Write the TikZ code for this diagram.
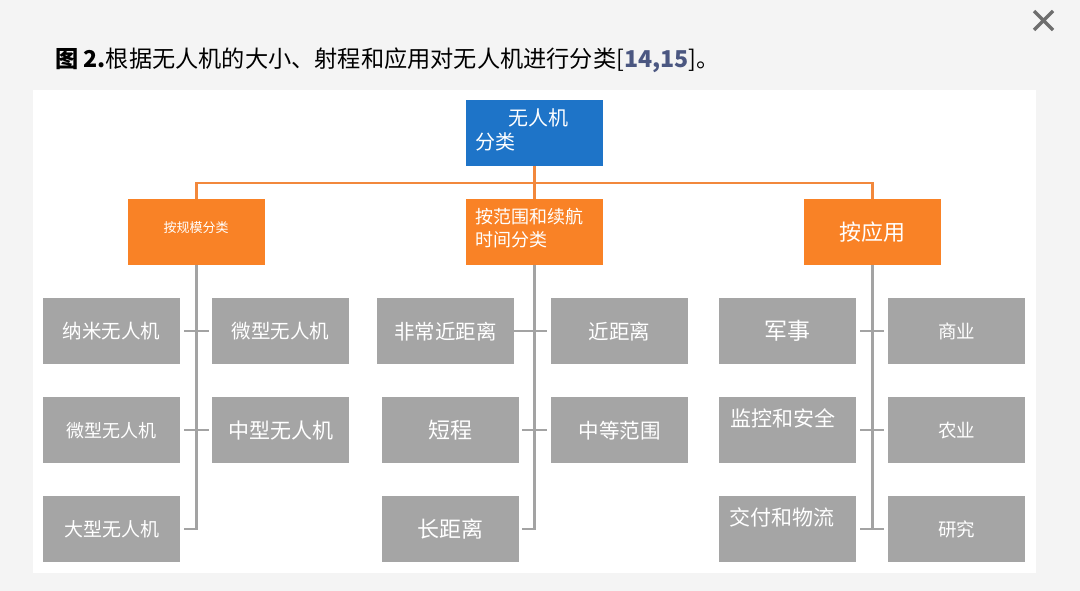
\documentclass[tikz,border=0pt]{standalone}
\usepackage{fontspec}
\setmainfont{Noto Sans CJK SC}
\usetikzlibrary{calc}
\definecolor{bggray}{HTML}{F4F4F4}
\definecolor{rootblue}{HTML}{1E74C8}
\definecolor{orng}{HTML}{F98226}
\definecolor{orline}{HTML}{F2883C}
\definecolor{gboxc}{HTML}{A5A5A5}
\definecolor{glinec}{HTML}{A3A3A3}
\definecolor{tblue}{HTML}{4B5781}
\definecolor{xgray}{HTML}{6E6E6E}
\newcommand{\fsz}[1]{\fontsize{#1}{#1}\selectfont}
\tikzset{
  obox/.style={fill=orng, draw=none, minimum width=137pt, minimum height=66pt, inner sep=0pt, text=white, anchor=north west},
  gbox/.style={fill=gboxc, draw=none, minimum width=137pt, minimum height=66pt, inner sep=0pt, text=white, anchor=north west},
  gtext/.style={text=white, inner sep=0pt},
  oline/.style={draw=orline, line width=2.5pt},
  gline/.style={draw=glinec, line width=2.5pt},
}
\begin{document}
\begin{tikzpicture}[x=1pt,y=-1pt]
\useasboundingbox (0,0) rectangle (1080,591);
\fill[bggray] (0,0) rectangle (1080,591);
\fill[white] (33,90) rectangle (1036,573);
% close mark
\draw[xgray, line width=3.5pt] (1034,11) -- (1053,30) (1053,11) -- (1034,30);
% title
\node[anchor=base west, inner sep=0pt] (title) at (55,68) {\fsz{23.2}{\bfseries 图 2.}根据无人机的大小、射程和应用对无人机进行分类[{\bfseries\color{tblue}14,15}]。};
% root
\node[fill=rootblue, minimum width=137pt, minimum height=66pt, anchor=north west, inner sep=0pt] (root) at (466,100) {};
\node[text=white, anchor=base west, inner sep=0pt] (rootA) at (508,126) {\fsz{20}无人机};
\node[text=white, anchor=base west, inner sep=0pt] (rootB) at (475,150) {\fsz{20}分类};
% level 1
\node[obox] (A) at (128,199) {};
\node[gtext] (Atxt) at (196,228) {\fsz{13}按规模分类};
\node[obox] (B) at (466,199) {};
\node[text=white, anchor=base west, inner sep=0pt] (BtxtA) at (475,224) {\fsz{18}按范围和续航};
\node[text=white, anchor=base west, inner sep=0pt] (BtxtB) at (475,247) {\fsz{18}时间分类};
\node[obox] (C) at (804,199) {\fsz{22}按应用};
\coordinate (bus) at (534,183);
\draw[oline] (A.north) |- (bus) -| (C.north);
\draw[oline] (root.south) -- (B.north);
% column 1
\node[gbox] (L11) at (43,298) {\fsz{19.5}纳米无人机};
\node[gbox] (R11) at (212,298) {\fsz{19.5}微型无人机};
\node[gbox] (L12) at (43,397) {\fsz{18}微型无人机};
\node[gbox] (R12) at (212,397) {\fsz{21}中型无人机};
\node[gbox] (L13) at (43,496) {\fsz{19}大型无人机};
\draw[gline] (A.south) |- ([xshift=4pt]L13.east);
\draw[gline] ([xshift=4pt]L11.east) -- ([xshift=-3pt]R11.west);
\draw[gline] ([xshift=4pt]L12.east) -- ([xshift=-3pt]R12.west);
% column 2
\node[gbox] (L21) at (377,298) {\fsz{20.5}非常近距离};
\node[gbox] (R21) at (551,298) {\fsz{20.5}近距离};
\node[gbox] (L22) at (382,397) {\fsz{22}短程};
\node[gbox] (R22) at (551,397) {\fsz{20.5}中等范围};
\node[gbox] (L23) at (382,496) {\fsz{22}长距离};
\draw[gline] (B.south) |- ([xshift=3pt]L23.east);
\draw[gline] (L21.east) -- ([xshift=-4pt]R21.west);
\draw[gline] ([xshift=3pt]L22.east) -- ([xshift=-4pt]R22.west);
% column 3
\node[gbox] (L31) at (719,298) {\fsz{23}军事};
\node[gbox] (R31) at (888,298) {\fsz{18.5}商业};
\node[gbox] (L32) at (719,397) {};
\node[gtext] (L32t) at (783,418) {\fsz{21}监控和安全};
\node[gbox] (R32) at (888,397) {\fsz{18.5}农业};
\node[gbox] (L33) at (719,496) {};
\node[gtext] (L33t) at (782,517) {\fsz{21}交付和物流};
\node[gbox] (R33) at (888,496) {\fsz{18.5}研究};
\draw[gline] (C.south) -- (C.south |- L33.east);
\draw[gline] ([xshift=4pt]L31.east) -- ([xshift=-4pt]R31.west);
\draw[gline] ([xshift=4pt]L32.east) -- ([xshift=-4pt]R32.west);
\draw[gline] ([xshift=4pt]L33.east) -- ([xshift=-4pt]R33.west);
\end{tikzpicture}
\end{document}
